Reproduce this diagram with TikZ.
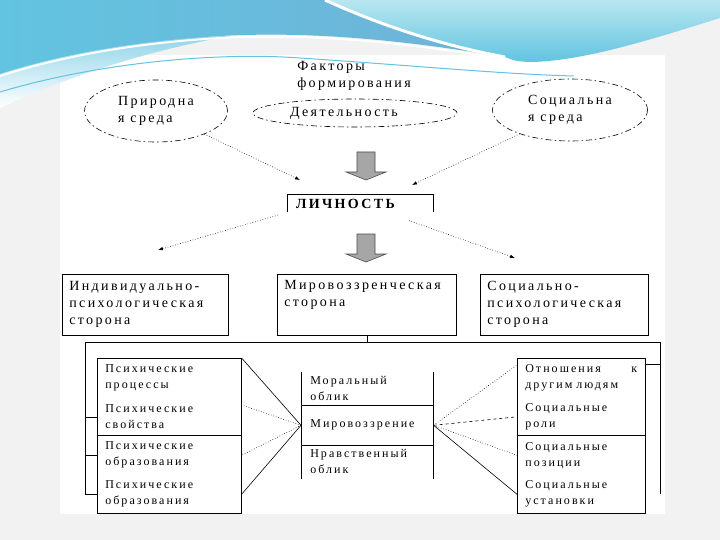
\documentclass[tikz,border=0pt]{standalone}
\usepackage{fontspec}
\setmainfont{Liberation Serif}[LetterSpace=17]
\usepackage{xcolor}
\usetikzlibrary{positioning,arrows.meta,shapes,calc}

\definecolor{swoopblue}{HTML}{6FB2D8}
\definecolor{swoopsky}{HTML}{62C4E0}
\definecolor{swooppale}{HTML}{B8E7F0}
\newcommand{\slidefont}{\fontsize{14}{17}\selectfont}
\newcommand{\cellfont}{\fontsize{12}{16}\selectfont}

\begin{document}
\begin{tikzpicture}[
    x=1pt, y=-1pt,
    >={Latex[length=5pt,width=3.5pt]},
    line width=0.6pt,
    factor/.style={ellipse, draw, dash pattern=on 6pt off 3pt on 1.5pt off 3pt, inner sep=0pt, align=left, font=\slidefont},
    side/.style={rectangle, draw, anchor=north west, align=left, inner xsep=7pt, inner ysep=0pt, minimum height=61pt, font=\slidefont},
    item/.style={rectangle, anchor=north west, align=left, inner xsep=8pt, inner ysep=0pt, font=\cellfont},
    cell/.style={rectangle, anchor=north west, align=left, inner xsep=9pt, inner ysep=0pt, text width=114pt, font=\cellfont},
    link/.style={->, dotted}
]
\useasboundingbox (0,0) rectangle (720,540);

% Slide background
\fill[black!5] (0,0) rectangle (720,540);
\fill[white] (60,55) rectangle (665,514);
\shade[top color=swoopsky!70, bottom color=white] (0,60) .. controls (60,50) and (140,38) .. (230,36) .. controls (140,52) and (60,80) .. (0,108) -- cycle;
\shade[left color=swoopsky, right color=swoopblue] (0,0) -- (325,0) .. controls (380,25) and (440,45) .. (505,57) .. controls (430,45) and (330,30) .. (220,36) .. controls (120,42) and (50,58) .. (0,74) -- cycle;
\shade[top color=swooppale, bottom color=swoopsky] (325,0) -- (720,0) -- (720,18) .. controls (650,40) and (580,62) .. (528,62) .. controls (515,61) .. (505,57) .. controls (440,45) and (380,25) .. (325,0) -- cycle;
\draw[white, line width=3pt] (325,0) .. controls (380,25) and (440,45) .. (505,57);
\draw[white, line width=2pt] (0,76) .. controls (50,60) and (120,44) .. (220,38) .. controls (330,32) and (430,47) .. (505,59);
\draw[swoopsky, line width=1pt] (0,92) .. controls (100,62) and (220,52) .. (300,58) .. controls (420,66) and (500,74) .. (574,76);

% Factors
\node[anchor=north west, align=left, font=\slidefont, inner sep=0pt] (fact) at (297,61) {Факторы\\формирования};
\node[factor, minimum width=143pt, minimum height=62pt] (nature) at (156,111) {Природна\\я среда};
\node[factor, minimum width=204pt, minimum height=28pt, text width=130pt] (activ) at (355,113) {Деятельность};
\node[factor, minimum width=155pt, minimum height=62pt] (social) at (570,110) {Социальна\\я среда};

% Personality
\node[minimum width=145pt, minimum height=17pt, inner sep=0pt, text width=129pt, align=left, font=\slidefont\bfseries] (person) at (360.5,203.5) {ЛИЧНОСТЬ};
\draw (person.south west) -- (person.north west) -- (person.north east) -- (person.south east);

\coordinate (inL) at (300,180);
\coordinate (inR) at (412,185);
\coordinate (outL) at (158,250);
\coordinate (outR) at (515,258);
\draw[link] (nature) -- (inL);
\draw[link] (social) -- (inR);
\draw[link, shorten <=10pt] (person.south west) -- (outL);
\draw[link, shorten <=25pt] (person) -- (outR);

% Block arrows
\foreach \y in {152,234} {
    \filldraw[fill=black!35, draw=black!70] (357,\y) -- (375,\y) -- (375,\y+20) -- (386,\y+20) -- (366,\y+28) -- (346,\y+20) -- (357,\y+20) -- cycle;
}

% Three sides
\node[side, text width=152pt] (indiv) at (62,274) {Индивидуально-\\психологическая\\сторона};
\node[side, text width=165pt] (world) at (277,274) {Мировоззренческая\\сторона\\\strut};
\node[side, text width=154pt] (socpsy) at (480,274) {Социально-\\психологическая\\сторона};

\coordinate (busL) at (85,342);
\coordinate (busR) at (660,342);
\draw (world.south) -- (world.south |- busL);
\draw (busL) -- (busR);

% Left items
\node[item, text width=128pt, minimum height=40pt] (p1) at (97,358) {Психические\\процессы};
\node[item, text width=128pt, minimum height=37pt] (p2) at (97,398) {Психические\\свойства};
\node[item, text width=128pt, minimum height=40pt] (p3) at (97,435) {Психические\\образования};
\node[item, text width=128pt, minimum height=38pt] (p4) at (97,475) {Психические\\образования};
\draw (p1.north west) rectangle (p2.south east);
\draw (p3.north west) rectangle (p4.south east);
\draw (busL) |- (p4.west);
\draw (p2.west) -- (p2.west -| busL);
\draw (p3.west) -- (p3.west -| busL);

% Right items
\node[item, text width=112pt, minimum height=40pt] (q1) at (517,358) {Отношения\hfill к\\другим людям};
\node[item, text width=112pt, minimum height=37pt] (q2) at (517,398) {Социальные\\роли};
\node[item, text width=112pt, minimum height=40pt] (q3) at (517,435) {Социальные\\позиции};
\node[item, text width=112pt, minimum height=38pt] (q4) at (517,475) {Социальные\\установки};
\draw (q1.north west) rectangle (q2.south east);
\draw (q3.north west) rectangle (q4.south east);
\coordinate (tabR) at ([yshift=-6pt]q1.north east);
\draw (busR) -- (busR |- q4.east);
\draw (tabR) -- (tabR -| busR);

% Middle column
\node[cell, minimum height=33pt] (moral) at (301,372) {Моральный\\облик};
\node[cell, minimum height=40pt] (mirov) at (301,405) {Мировоззрение};
\node[cell, minimum height=33pt] (nrav) at (301,445) {Нравственный\\облик};
\draw (moral.north west) -- (nrav.south west);
\draw (moral.north east) -- (nrav.south east);
\draw (mirov.north west) -- (mirov.north east);
\draw (mirov.south west) -- (mirov.south east);

% Links to items
\draw (mirov.west) -- (p1.north east);
\draw[dotted] (mirov.west) -- ([yshift=-7pt]p2.north east);
\draw[dotted] (mirov.west) -- (p3.east);
\draw (mirov.west) -- (p4.east);
\draw[dotted] (mirov.east) -- ([yshift=-7pt]q1.north west);
\draw[dashed] (mirov.east) -- (q2.west);
\draw[dotted] (mirov.east) -- (q3.west);
\draw (mirov.east) -- (q4.west);
\end{tikzpicture}
\end{document}
